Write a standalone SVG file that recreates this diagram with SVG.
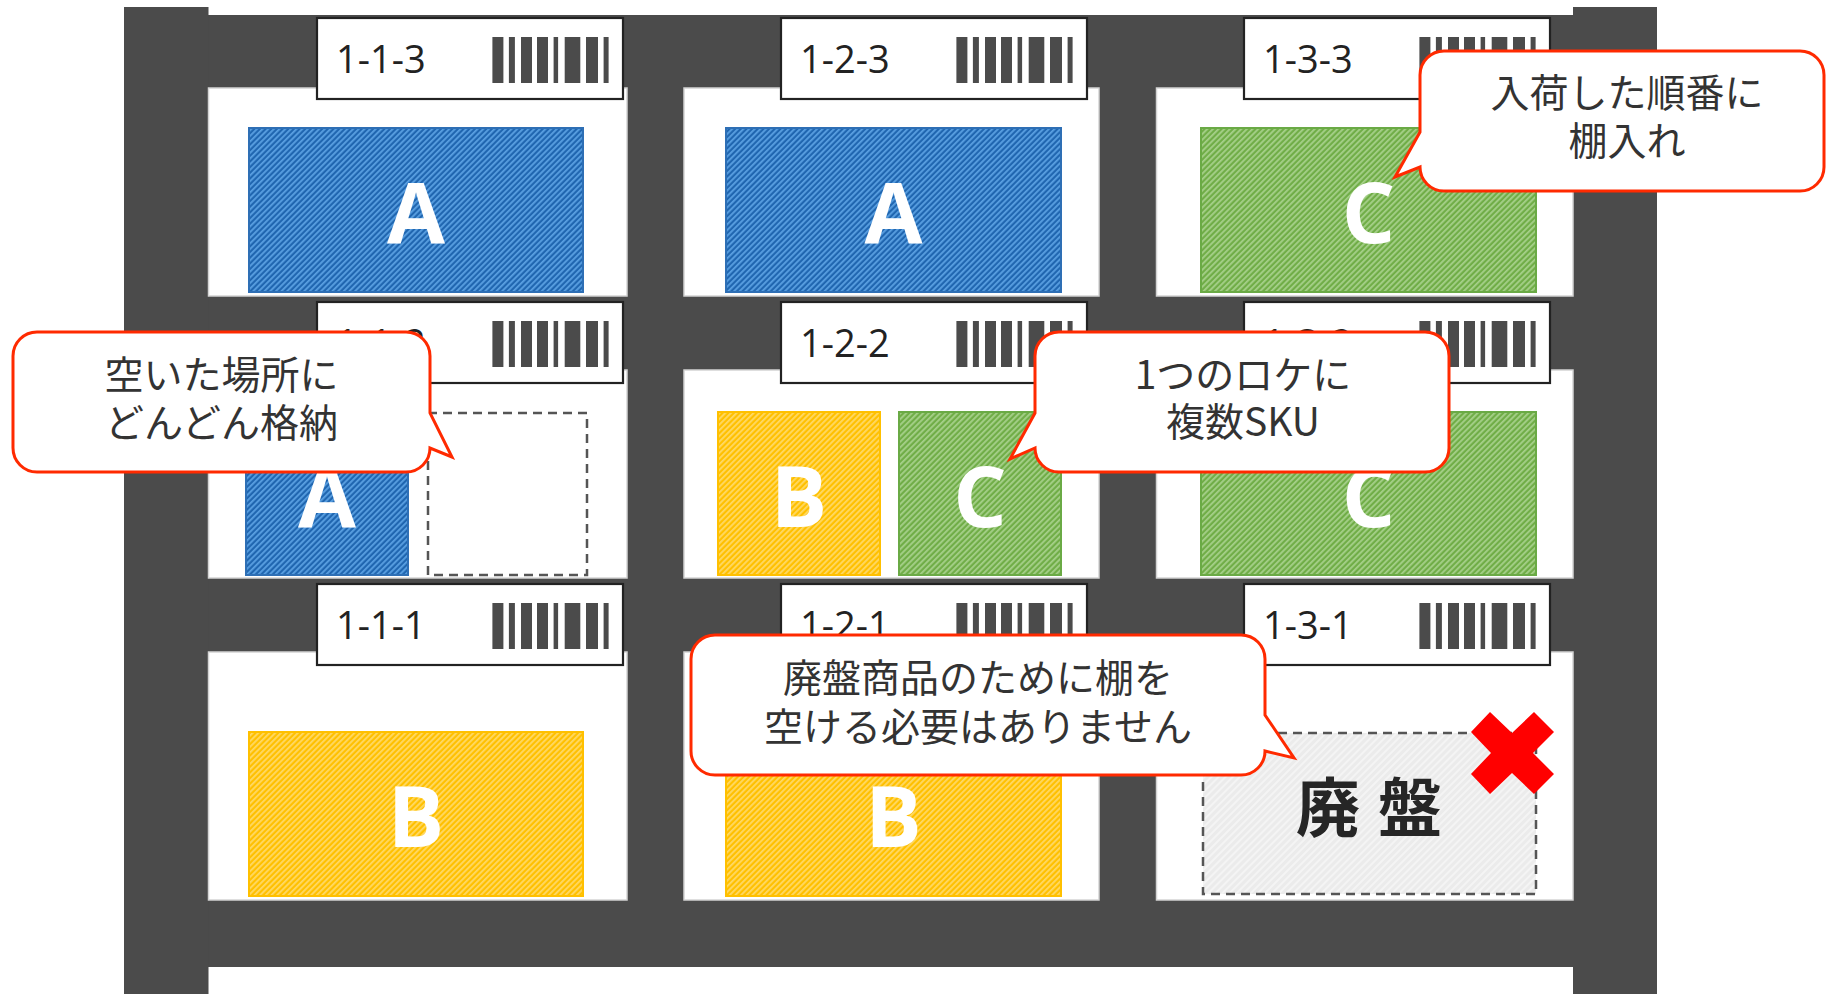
<svg xmlns="http://www.w3.org/2000/svg" xmlns:xlink="http://www.w3.org/1999/xlink" width="1827" height="994" viewBox="0 0 1827 994">
<style>
.frame{fill:#4b4b4b}
.cell{fill:#ffffff;stroke:#d4d4d4;stroke-width:1.5}
.lbl{fill:#ffffff;stroke:#222222;stroke-width:2.2}
.lt{font-family:"Open Sans","Noto Sans",sans-serif;font-size:38px;fill:#222222}
.bar{fill:#4b4b4b}
.big{font-family:"Open Sans","Noto Sans",sans-serif;font-weight:bold;font-size:84px;fill:#ffffff;text-anchor:middle}
.blue{fill:url(#pBlue);stroke:#2e6fb5;stroke-width:2}
.green{fill:url(#pGreen);stroke:#6aaa45;stroke-width:2}
.yellow{fill:url(#pYellow);stroke:#ffc000;stroke-width:2}
.empty{fill:#ffffff;stroke:#555555;stroke-width:2.5;stroke-dasharray:9 6}
.haiban{fill:url(#pGray);stroke:#555555;stroke-width:2.5;stroke-dasharray:9 6}
.hbt{font-family:"Noto Sans CJK JP",sans-serif;font-weight:bold;font-size:64px;fill:#262626;text-anchor:middle;letter-spacing:18px}
.call{fill:#ffffff;stroke:#ff2a00;stroke-width:3;stroke-linejoin:miter}
.ct{font-family:"Noto Sans CJK JP",sans-serif;font-size:39px;fill:#333333;text-anchor:middle}
</style>
<defs>
<pattern id="pBlue" width="4" height="4" patternUnits="userSpaceOnUse" patternTransform="rotate(45)">
<rect width="4" height="4" fill="#2066b0"/><rect width="1.8" height="4" fill="#5aa0e2"/>
</pattern>
<pattern id="pGreen" width="4" height="4" patternUnits="userSpaceOnUse" patternTransform="rotate(45)">
<rect width="4" height="4" fill="#70ad47"/><rect width="1.8" height="4" fill="#a6d08a"/>
</pattern>
<pattern id="pYellow" width="4" height="4" patternUnits="userSpaceOnUse" patternTransform="rotate(45)">
<rect width="4" height="4" fill="#ffc000"/><rect width="1.8" height="4" fill="#ffd966"/>
</pattern>
<pattern id="pGray" width="5" height="5" patternUnits="userSpaceOnUse" patternTransform="rotate(45)">
<rect width="5" height="5" fill="#ebebeb"/><rect width="2" height="5" fill="#f4f4f4"/>
</pattern>
<g id="bc">
<rect class="bar" x="0" y="0" width="11" height="46"/>
<rect class="bar" x="16.5" y="0" width="6" height="46"/>
<rect class="bar" x="28.6" y="0" width="11" height="46"/>
<rect class="bar" x="44.6" y="0" width="11" height="46"/>
<rect class="bar" x="61.2" y="0" width="4.5" height="46"/>
<rect class="bar" x="72.3" y="0" width="15.6" height="46"/>
<rect class="bar" x="93.6" y="0" width="12" height="46"/>
<rect class="bar" x="111.2" y="0" width="5" height="46"/>
</g>
</defs>

<g id="rack">
<rect class="frame" x="124" y="15" width="1533" height="952"/>
<rect class="frame" x="124" y="7" width="84.5" height="987"/>
<rect class="frame" x="1573" y="7" width="84" height="987"/>
<rect class="cell" x="208.5" y="88" width="418.5" height="208"/>
<rect class="cell" x="684" y="88" width="415" height="208"/>
<rect class="cell" x="1156.5" y="88" width="416.5" height="208"/>
<rect class="cell" x="208.5" y="370" width="418.5" height="208"/>
<rect class="cell" x="684" y="370" width="415" height="208"/>
<rect class="cell" x="1156.5" y="370" width="416.5" height="208"/>
<rect class="cell" x="208.5" y="652" width="418.5" height="248"/>
<rect class="cell" x="684" y="652" width="415" height="248"/>
<rect class="cell" x="1156.5" y="652" width="416.5" height="248"/>
</g>

<g id="loc-1-1-3">
<rect class="blue" x="249" y="128" width="334" height="164"/>
<text class="big" x="416" y="243">A</text>
<rect class="lbl" x="317" y="18" width="306" height="81"/>
<text class="lt" x="336" y="73">1-1-3</text>
<use xlink:href="#bc" href="#bc" x="492.4" y="37"/>
</g>
<g id="loc-1-2-3">
<rect class="blue" x="726" y="128" width="335" height="164"/>
<text class="big" x="893.5" y="243">A</text>
<rect class="lbl" x="781" y="18" width="306" height="81"/>
<text class="lt" x="800" y="73">1-2-3</text>
<use xlink:href="#bc" href="#bc" x="956.4" y="37"/>
</g>
<g id="loc-1-3-3">
<rect class="green" x="1201" y="128" width="335" height="164"/>
<text class="big" x="1368.5" y="243">C</text>
<rect class="lbl" x="1244" y="18" width="306" height="81"/>
<text class="lt" x="1263" y="73">1-3-3</text>
<use xlink:href="#bc" href="#bc" x="1419.4" y="37"/>
</g>

<g id="loc-1-1-2">
<rect class="blue" x="246" y="412" width="162" height="163"/>
<text class="big" x="327" y="527">A</text>
<rect class="empty" x="428" y="413" width="159" height="162"/>
<rect class="lbl" x="317" y="302" width="306" height="81"/>
<text class="lt" x="336" y="357">1-1-2</text>
<use xlink:href="#bc" href="#bc" x="492.4" y="321"/>
</g>
<g id="loc-1-2-2">
<rect class="yellow" x="718" y="412" width="162" height="163"/>
<text class="big" x="799" y="527">B</text>
<rect class="green" x="899" y="412" width="162" height="163"/>
<text class="big" x="980" y="527">C</text>
<rect class="lbl" x="781" y="302" width="306" height="81"/>
<text class="lt" x="800" y="357">1-2-2</text>
<use xlink:href="#bc" href="#bc" x="956.4" y="321"/>
</g>
<g id="loc-1-3-2">
<rect class="green" x="1201" y="412" width="335" height="163"/>
<text class="big" x="1368.5" y="527">C</text>
<rect class="lbl" x="1244" y="302" width="306" height="81"/>
<text class="lt" x="1263" y="357">1-3-2</text>
<use xlink:href="#bc" href="#bc" x="1419.4" y="321"/>
</g>

<g id="loc-1-1-1">
<rect class="yellow" x="249" y="732" width="334" height="164"/>
<text class="big" x="416" y="847">B</text>
<rect class="lbl" x="317" y="584" width="306" height="81"/>
<text class="lt" x="336" y="639">1-1-1</text>
<use xlink:href="#bc" href="#bc" x="492.4" y="603"/>
</g>
<g id="loc-1-2-1">
<rect class="yellow" x="726" y="732" width="335" height="164"/>
<text class="big" x="893.5" y="847">B</text>
<rect class="lbl" x="781" y="584" width="306" height="81"/>
<text class="lt" x="800" y="639">1-2-1</text>
<use xlink:href="#bc" href="#bc" x="956.4" y="603"/>
</g>
<g id="loc-1-3-1">
<rect class="haiban" x="1203" y="733" width="333" height="161"/>
<text class="hbt" x="1378" y="831">廃盤</text>
<rect class="lbl" x="1244" y="584" width="306" height="81"/>
<text class="lt" x="1263" y="639">1-3-1</text>
<use xlink:href="#bc" href="#bc" x="1419.4" y="603"/>
<polygon fill="#ff0000" points="1471,732 1490,712 1512,733 1534,712 1554,732 1533,753 1554,774 1534,794 1512,773 1490,794 1471,774 1491,753"/>
</g>

<g id="callouts">
<g id="callout-nyuka">
<path class="call" d="M1444,51 H1800 A24,24 0 0 1 1824,75 V167 A24,24 0 0 1 1800,191 H1444 A24,24 0 0 1 1420,167 L1395,177 L1420,132 V75 A24,24 0 0 1 1444,51 Z"/>
<text class="ct" x="1627" y="107">入荷した順番に</text>
<text class="ct" x="1627" y="155">棚入れ</text>
</g>
<g id="callout-aki">
<path class="call" d="M37,332 H406 A24,24 0 0 1 430,356 V413 L452,457 L430,448 A24,24 0 0 1 406,472 H37 A24,24 0 0 1 13,448 V356 A24,24 0 0 1 37,332 Z"/>
<text class="ct" x="221.5" y="389">空いた場所に</text>
<text class="ct" x="221.5" y="437">どんどん格納</text>
</g>
<g id="callout-sku">
<path class="call" d="M1059,332 H1425 A24,24 0 0 1 1449,356 V448 A24,24 0 0 1 1425,472 H1059 A24,24 0 0 1 1035,448 L1010,459 L1035,413 V356 A24,24 0 0 1 1059,332 Z"/>
<text class="ct" x="1243" y="389">1つのロケに</text>
<text class="ct" x="1243" y="436">複数SKU</text>
</g>
<g id="callout-haiban">
<path class="call" d="M715,635 H1241 A24,24 0 0 1 1265,659 V715 L1294,758 L1265,751 A24,24 0 0 1 1241,775 H715 A24,24 0 0 1 691,751 V659 A24,24 0 0 1 715,635 Z"/>
<text class="ct" x="978" y="692">廃盤商品のために棚を</text>
<text class="ct" x="978" y="741">空ける必要はありません</text>
</g>
</g>
</svg>
